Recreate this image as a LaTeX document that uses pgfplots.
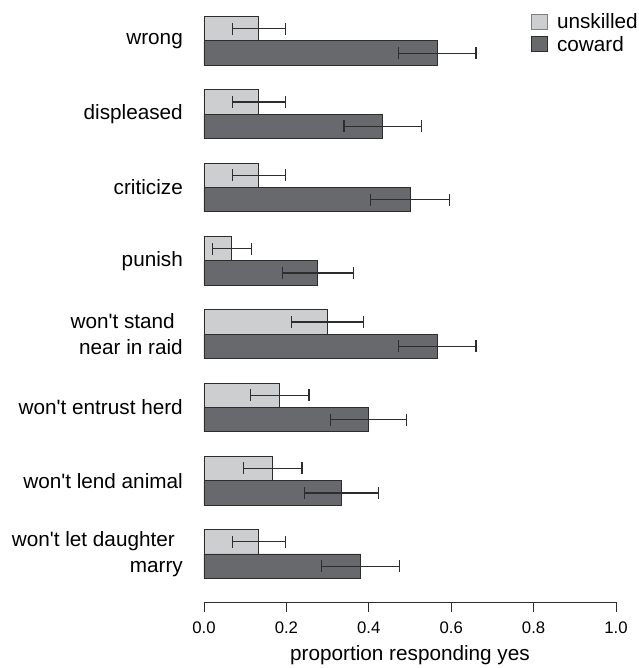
\documentclass[border=0pt]{standalone}
\usepackage{fontspec}
\setmainfont{Liberation Sans}[Ligatures=TeXOff]
\usepackage{pgfplots}
\pgfplotsset{compat=1.18}
\definecolor{lightbar}{RGB}{205,206,208}
\definecolor{darkbar}{RGB}{104,105,108}
\definecolor{edge}{RGB}{45,45,45}
\begin{document}
\begin{tikzpicture}
\begin{axis}[
 name=ax,
 scale only axis,
 width=412bp, height=597.7bp,
 xmin=0, xmax=1, ymin=-0.655, ymax=7.5,
 axis lines*=left,
 axis line style={-, draw=edge, line width=0.9bp},
 y axis line style={draw=none},
 ytick={0,1,2,3,4,5,6,7},
 yticklabels={{won't let daughter\hspace*{8bp}\\marry},{won't lend animal},{won't entrust herd},{won't stand\hspace*{8bp}\\near in raid},{punish},{criticize},{displeased},{wrong}},
 ytick style={draw=none},
 yticklabel style={font=\fontsize{20.8}{25.5}\selectfont, align=right, inner sep=0pt, xshift=-11bp},
 xtick={0,0.2,0.4,0.6,0.8,1},
 xticklabels={0.0,0.2,0.4,0.6,0.8,1.0},
 tick align=outside,
 major tick length=10bp,
 xtick style={draw=edge, line width=0.9bp},
 xticklabel style={font=\fontsize{16.8}{20}\selectfont, inner sep=0pt, yshift=-10bp},
 xlabel={proportion responding yes},
 xlabel style={font=\fontsize{20.8}{25}\selectfont, inner sep=0pt, yshift=-11bp},
 clip=false,
 legend style={at={(axis description cs:0.789,1)}, anchor=north west, xshift=2bp, yshift=-7bp, draw=none, fill=none, inner sep=0pt, font=\fontsize{20.8}{25}\selectfont, row sep=2bp, nodes={inner sep=2bp}, /tikz/every odd column/.append style={column sep=7bp}},
 legend cell align=left,
]
\addplot[xbar, bar width=24.4bp, fill=lightbar, draw=edge, line width=0.9bp,
 legend image code/.code={\draw[fill=lightbar, draw=gray, line width=0.8bp] (0bp,-7.5bp) rectangle (16bp,7.5bp);},
 error bars/.cd, x dir=both, x explicit,
 error bar style={draw=edge, line width=1.2bp},
 error mark options={rotate=90, mark size=6bp, line width=1.2bp, draw=edge}]
 coordinates {
 (0.133,0.1665) += (0.065,0) -= (0.064,0)
 (0.167,1.1665) += (0.071,0) -= (0.071,0)
 (0.184,2.1665) += (0.071,0) -= (0.072,0)
 (0.300,3.1665) += (0.088,0) -= (0.087,0)
 (0.067,4.1665) += (0.048,0) -= (0.047,0)
 (0.133,5.1665) += (0.065,0) -= (0.064,0)
 (0.133,6.1665) += (0.065,0) -= (0.064,0)
 (0.133,7.1665) += (0.065,0) -= (0.064,0)
 };
\addlegendentry{unskilled}
\addplot[xbar, bar width=24.4bp, fill=darkbar, draw=edge, line width=0.9bp,
 legend image code/.code={\draw[fill=darkbar, draw=edge, line width=0.8bp] (0bp,-7.5bp) rectangle (16bp,7.5bp);},
 error bars/.cd, x dir=both, x explicit,
 error bar style={draw=edge, line width=1.2bp},
 error mark options={rotate=90, mark size=6bp, line width=1.2bp, draw=edge}]
 coordinates {
 (0.380,-0.1665) += (0.094,0) -= (0.094,0)
 (0.334,0.8335) += (0.089,0) -= (0.090,0)
 (0.400,1.8335) += (0.092,0) -= (0.093,0)
 (0.567,2.8335) += (0.093,0) -= (0.094,0)
 (0.276,3.8335) += (0.086,0) -= (0.086,0)
 (0.500,4.8335) += (0.095,0) -= (0.095,0)
 (0.433,5.8335) += (0.094,0) -= (0.093,0)
 (0.567,6.8335) += (0.093,0) -= (0.094,0)
 };
\addlegendentry{coward}
\end{axis}
\pgfresetboundingbox
\path[use as bounding box] ([shift={(-204bp,-66bp)}]ax.south west) rectangle ++(639bp,668bp);
\end{tikzpicture}
\end{document}
